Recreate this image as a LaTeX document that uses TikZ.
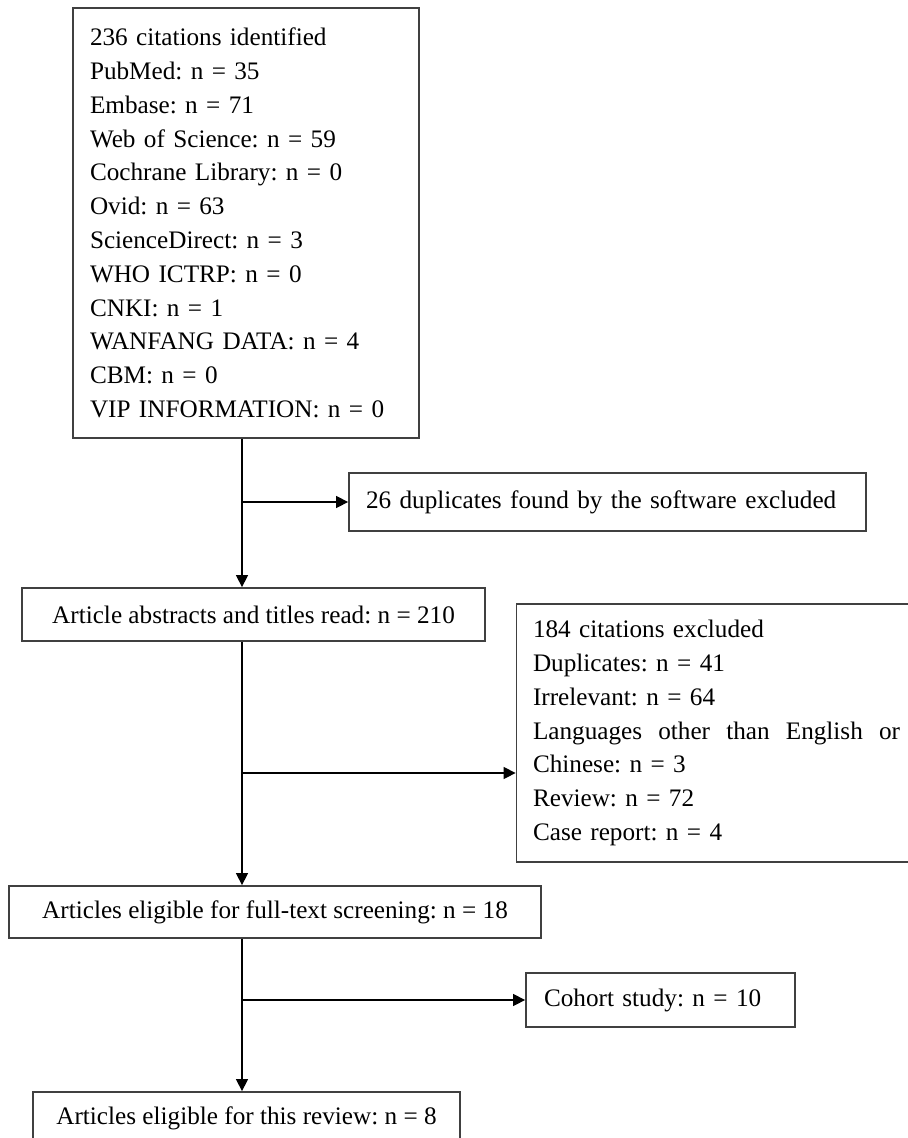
\documentclass[tikz,border=0pt]{standalone}
\usepackage{fontspec}
\setmainfont{Liberation Serif}
\usepackage{tikz}
\usetikzlibrary{positioning,arrows.meta}

\tikzset{
    box/.style = {draw = black!75, line width = 0.9pt, inner sep = 0pt,
        font = \fontsize{12.6}{16.9}\selectfont},
    arr/.style = {-{Triangle[length = 6pt, width = 6pt]}, line width = 0.7pt}
}

\begin{document}
\frenchspacing
\begin{tikzpicture}[x = 0.5pt, y = -0.5pt]
        \useasboundingbox (0, 0) rectangle (908, 1138);
        \clip (0, 0) rectangle (908, 1138);

        \node[box, minimum width = 173pt, minimum height = 215pt, text width = 156pt, align = left] (src) at (246, 223)
        {236 citations identified\\
        PubMed: n = 35\\
        Embase: n = 71\\
        Web of Science: n = 59\\
        Cochrane Library: n = 0\\
        Ovid: n = 63\\
        ScienceDirect: n = 3\\
        WHO ICTRP: n = 0\\
        CNKI: n = 1\\
        WANFANG DATA: n = 4\\
        CBM: n = 0\\
        VIP INFORMATION: n = 0};

        \node[box, minimum width = 258.5pt, minimum height = 29pt, text width = 241.5pt, align = left] (dup) at (607.5, 502)
        {26 duplicates found by the software excluded};

        \node[box, minimum width = 231.5pt, minimum height = 26.5pt] (abs) at (253.5, 614.5)
        {Article abstracts and titles read: n = 210};

        \node[box, minimum width = 200pt, minimum height = 129pt, text width = 183.5pt, align = left] (excl) at (716.5, 733)
        {184 citations excluded\\
        Duplicates: n = 41\\
        Irrelevant: n = 64\\
        \makebox[183.5pt][l]{Languages\hfill other\hfill than\hfill English\hfill or}\\
        Chinese: n = 3\\
        Review: n = 72\\
        Case report: n = 4};

        \node[box, minimum width = 266pt, minimum height = 26pt] (full) at (275, 912)
        {Articles eligible for full-text screening: n = 18};

        \node[box, minimum width = 134.5pt, minimum height = 27pt, text width = 116.5pt, align = left] (coh) at (660.5, 1000)
        {Cohort study: n = 10};

        \node[box, minimum width = 213.5pt, minimum height = 26.5pt] (rev) at (246.5, 1118.5)
        {Articles eligible for this review: n = 8};

        \coordinate (trunk) at (242, 0);
        \coordinate (split) at (242, 773);

        \draw[arr] (trunk |- src.south) -- (trunk |- abs.north);
        \draw[arr] (trunk |- dup.west) -- (dup.west);
        \draw[arr] (trunk |- abs.south) -- (trunk |- full.north);
        \draw[arr] (split) -- (split -| excl.west);
        \draw[arr] (trunk |- full.south) -- (trunk |- rev.north);
        \draw[arr] (trunk |- coh.west) -- (coh.west);
    \end{tikzpicture}
\end{document}
